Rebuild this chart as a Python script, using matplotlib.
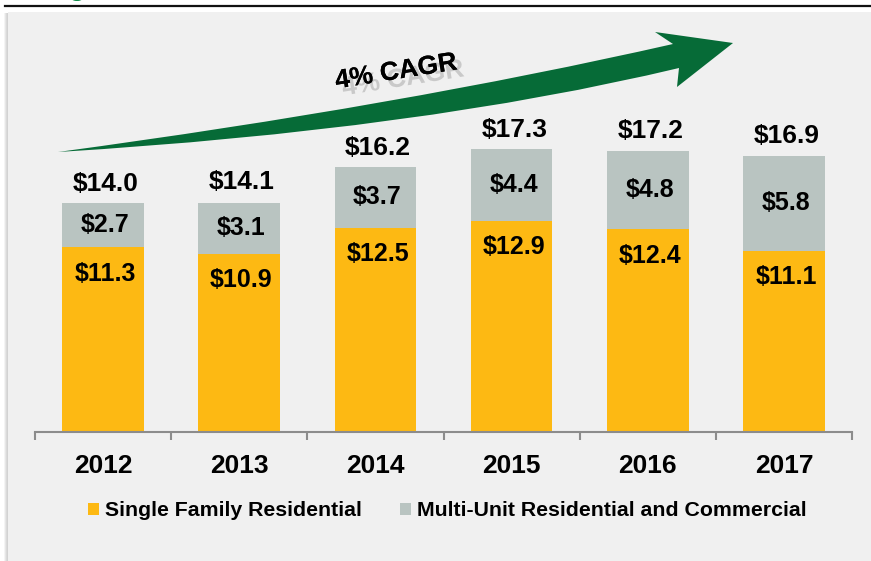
import numpy as np
import matplotlib.pyplot as plt
from matplotlib.patches import Rectangle, PathPatch, Ellipse
from matplotlib.path import Path
import matplotlib.patheffects as pe

# =========================
# Dados
# =========================
years = ["2012", "2013", "2014", "2015", "2016", "2017"]
single_family = [11.3, 10.9, 12.5, 12.9, 12.4, 11.1]
multi_unit = [2.7, 3.1, 3.7, 4.4, 4.8, 5.8]
totals = [14.0, 14.1, 16.2, 17.3, 17.2, 16.9]

series_names = ["Single Family Residential", "Multi-Unit Residential and Commercial"]
cagr_text = "4% CAGR"

YELLOW = "#FDB913"
GRAY = "#B9C4C1"
GREEN = "#066B37"
PANEL = "#F0F0F0"
AXIS = "#8C8C8C"

W, H = 871, 561


def fx(x):
    return x / W


def fy(y):
    return 1 - y / H


def main():

    plt.rcParams["font.family"] = ["Liberation Sans", "DejaVu Sans"]

    fig = plt.figure(figsize=(W / 100, H / 100), dpi=100)
    fig.patch.set_facecolor("white")

    # =========================
    # Painel de fundo
    # =========================
    for i, c in enumerate(["#f4f4f4", "#e6e6e6", "#dadada", "#d2d2d2"]):
        fig.patches.append(Rectangle((fx(4 + i), 0), fx(1), fy(13), transform=fig.transFigure,
                                     facecolor=c, edgecolor="none", zorder=-10))
    fig.patches.append(Rectangle((fx(8), 0), 1, fy(12), transform=fig.transFigure,
                                 facecolor=PANEL, edgecolor="none", zorder=-10))
    fig.lines.append(plt.Line2D([fx(5), 1], [fy(6), fy(6)], transform=fig.transFigure,
                                color="#111111", lw=1.6))
    fig.patches.append(Ellipse((fx(77), fy(-1)), fx(10), 4 / H, transform=fig.transFigure,
                               facecolor="#0b8a45", edgecolor="none"))

    # =========================
    # Barras
    # =========================
    ax = fig.add_axes([fx(35), fy(432), fx(852) - fx(35), fy(20) - fy(432)])
    ax.set_facecolor("none")
    ax.set_zorder(1)

    x = np.arange(len(years))
    ax.bar(x, single_family, width=0.6, color=YELLOW, label=series_names[0], zorder=2)
    ax.bar(x, multi_unit, width=0.6, bottom=single_family, color=GRAY,
           label=series_names[1], zorder=2)

    ax.set_xlim(-0.5, len(years) - 0.5)
    ax.set_ylim(0, 25.2)

    for i in range(len(years)):
        ax.annotate(f"${single_family[i]:.1f}", (x[i], single_family[i]),
                    xytext=(1.5, -19), textcoords="offset points",
                    ha="center", va="center", fontsize=18, fontweight="bold")
        ax.annotate(f"${multi_unit[i]:.1f}", (x[i], single_family[i] + multi_unit[i] / 2),
                    xytext=(1.5, 0), textcoords="offset points",
                    ha="center", va="center", fontsize=18, fontweight="bold")
        ax.annotate(f"${totals[i]:.1f}", (x[i], totals[i]),
                    xytext=(2, 14), textcoords="offset points",
                    ha="center", va="center", fontsize=19, fontweight="bold")

    # =========================
    # Eixos
    # =========================
    for s in ["top", "right", "left"]:
        ax.spines[s].set_visible(False)
    ax.spines["bottom"].set_color(AXIS)
    ax.spines["bottom"].set_linewidth(1.5)
    ax.set_yticks([])
    ax.set_xticks(x)
    ax.set_xticklabels(years, fontsize=19, fontweight="bold")
    ax.set_xticks(np.arange(-0.5, len(years)), minor=True)
    ax.tick_params(axis="x", which="major", length=0, pad=16)
    ax.tick_params(axis="x", which="minor", length=5.5, width=1.5, color=AXIS)

    # =========================
    # Legenda
    # =========================
    ax.legend(loc="center", bbox_to_anchor=(fx(447), fy(511)),
              bbox_transform=fig.transFigure, ncol=2, frameon=False,
              prop={"size": 15.3, "weight": "bold"}, handlelength=0.55,
              handleheight=0.55, handletextpad=0.25, columnspacing=1.8)

    # =========================
    # Seta CAGR
    # =========================
    pts = [(58, 152), (400, 106), (673, 44), (655, 32), (733, 43), (677, 87),
           (679, 68), (420, 130), (58, 152)]
    codes = [Path.MOVETO, Path.CURVE3, Path.CURVE3, Path.LINETO, Path.LINETO,
             Path.LINETO, Path.LINETO, Path.CURVE3, Path.CURVE3]
    verts = [(fx(a), fy(b)) for a, b in pts]
    fig.patches.append(PathPatch(Path(verts, codes), transform=fig.transFigure,
                                 facecolor=GREEN, edgecolor="none", zorder=3))

    fig.text(fx(396), fy(72), cagr_text, rotation=9, ha="center", va="center",
             fontsize=19, fontweight="bold", zorder=5,
             path_effects=[pe.withSimplePatchShadow(offset=(5, -5),
                                                    shadow_rgbFace="#c0c0c0", alpha=0.8),
                           pe.Normal()])

    plt.savefig("out.png", dpi=100)
    plt.close()


if __name__ == "__main__":
    main()
